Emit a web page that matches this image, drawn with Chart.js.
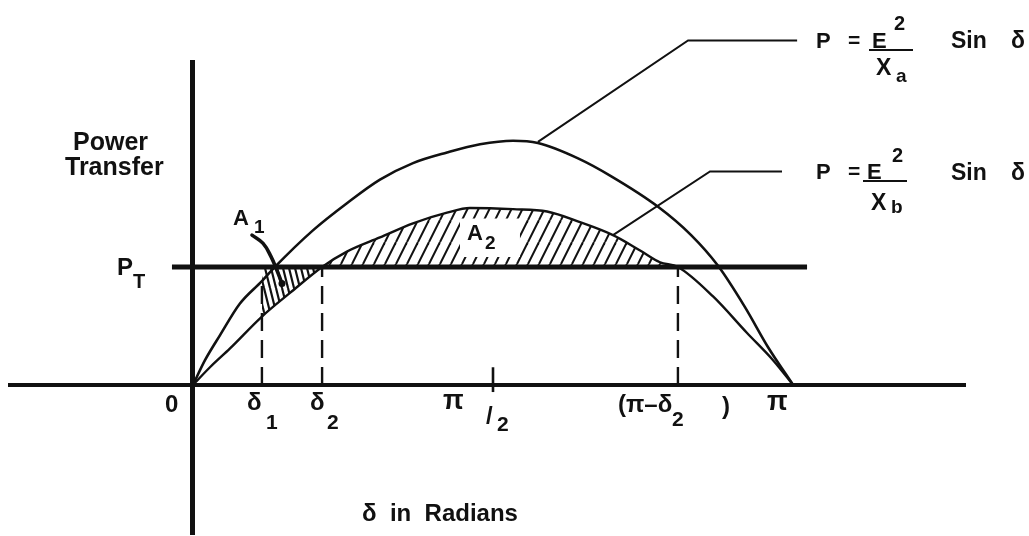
<!DOCTYPE html>
<html><head><meta charset="utf-8">
<script src="https://cdn.jsdelivr.net/npm/chart.js@4"></script>
<style>html,body{margin:0;padding:0;background:#fff;}canvas{display:block;}</style>
</head><body>
<canvas id="c" width="1029" height="536"></canvas>
<script>
// ---- data (δ in radians, power in units of P_T) ----
const upperX = [0,0.063,0.141,0.246,0.361,0.429,0.628,0.806,0.979,1.152,1.330,1.503,1.676,1.806,2.016,2.188,2.435,2.608,2.749,2.890,3.011,3.142];
const upperY = [0,0.21,0.42,0.69,0.88,1.00,1.31,1.54,1.74,1.88,1.97,2.04,2.07,2.05,1.92,1.77,1.51,1.27,1.01,0.66,0.32,0];
const lowerX = [0,0.089,0.194,0.361,0.508,0.676,0.806,0.979,1.152,1.330,1.450,1.676,1.854,2.026,2.199,2.341,2.445,2.539,2.723,2.901,3.037,3.142];
const lowerY = [0,0.15,0.31,0.58,0.78,1.00,1.13,1.25,1.37,1.46,1.50,1.49,1.47,1.38,1.27,1.14,1.04,1.00,0.75,0.44,0.21,0];
const PT = 1.0;
const ptLineX = [-0.110, 3.215];
const delta1 = 0.361, delta2 = 0.676, piMinusDelta2 = 2.539;
const delta1Top = 0.88;
const halfPiTickY = [-0.06, 0.15];
const a2PlainX = [1.398, 1.712];
const a2PlainY = [1.41, 1.085];
const leaderAX = [1.806, 2.592, 3.163], leaderAY = [2.06, 2.92, 2.92];
const leaderBX = [2.199, 2.707, 3.084], leaderBY = [1.27, 1.81, 1.81];
const pointerX = [0.309, 0.367, 0.408, 0.440, 0.466], pointerY = [1.27, 1.20, 1.09, 0.97, 0.86];
const xTickValues = [0, delta1, delta2, Math.PI/2, piMinusDelta2, Math.PI];
const xTickLabels = ['0', 'δ1', 'δ2', 'π/2', '(π–δ2 )', 'π'];

const pts = (xs, ys) => xs.map((x, i) => ({x, y: ys[i]}));
const FONT = "'Liberation Sans', Arial, sans-serif";
const INK = '#111';

function makeHatch(w, h, lines, lw) {
  const c = document.createElement('canvas'); c.width = w; c.height = h;
  const g = c.getContext('2d'); g.strokeStyle = INK; g.lineWidth = lw;
  lines.forEach(l => { g.beginPath(); g.moveTo(l[0], l[1]); g.lineTo(l[2], l[3]); g.stroke(); });
  return g.createPattern(c, 'repeat');
}
const hatchA2 = makeHatch(11, 22, [[0,22,11,0],[-11,22,0,0],[11,22,22,0]], 2);
const hatchA1 = makeHatch(6, 24, [[0,0,6,24],[-6,0,0,24],[6,0,12,24]], 2.2);

const base = {showLine: true, pointRadius: 0, borderColor: INK, fill: false, clip: false};
const datasets = [
  Object.assign({}, base, {label: 'A2', data: pts(lowerX.slice(5, 18), lowerY.slice(5, 18)), borderColor: 'rgba(0,0,0,0)', borderWidth: 0, cubicInterpolationMode: 'monotone', fill: {value: PT}, backgroundColor: hatchA2, order: 20}),
  Object.assign({}, base, {label: 'A1', data: pts(lowerX.slice(3, 6), lowerY.slice(3, 6)), borderColor: 'rgba(0,0,0,0)', borderWidth: 0, cubicInterpolationMode: 'monotone', fill: {value: PT}, backgroundColor: hatchA1, order: 20}),
  Object.assign({}, base, {label: 'A2 label area', data: pts(a2PlainX, [a2PlainY[0], a2PlainY[0]]), borderColor: 'rgba(0,0,0,0)', borderWidth: 0, fill: {value: a2PlainY[1]}, backgroundColor: '#fff', order: 19}),
  Object.assign({}, base, {label: 'P = E²/Xa sin δ', data: pts(upperX, upperY), borderWidth: 2.6, cubicInterpolationMode: 'monotone', order: 5}),
  Object.assign({}, base, {label: 'P = E²/Xb sin δ', data: pts(lowerX, lowerY), borderWidth: 2.4, cubicInterpolationMode: 'monotone', order: 5}),
  Object.assign({}, base, {label: 'PT', data: pts(ptLineX, [PT, PT]), borderWidth: 5, order: 4}),
  Object.assign({}, base, {label: 'δ1', data: pts([delta1, delta1], [0, delta1Top]), borderWidth: 2.4, borderDash: [18, 9], order: 6}),
  Object.assign({}, base, {label: 'δ2', data: pts([delta2, delta2], [0, PT]), borderWidth: 2.4, borderDash: [18, 9], order: 6}),
  Object.assign({}, base, {label: 'π-δ2', data: pts([piMinusDelta2, piMinusDelta2], [0, PT]), borderWidth: 2.4, borderDash: [18, 9], order: 6}),
  Object.assign({}, base, {label: 'π/2', data: pts([Math.PI/2, Math.PI/2], halfPiTickY), borderWidth: 2.6, order: 6}),
  Object.assign({}, base, {label: 'leader a', data: pts(leaderAX, leaderAY), borderWidth: 2, order: 6}),
  Object.assign({}, base, {label: 'leader b', data: pts(leaderBX, leaderBY), borderWidth: 2, order: 6}),
  Object.assign({}, base, {label: 'A1 pointer', data: pts(pointerX, pointerY), borderWidth: 3.6, tension: 0.4, borderCapStyle: 'round',
    pointRadius: c => c.dataIndex === pointerX.length - 1 ? 3.5 : 0, pointBackgroundColor: INK, pointBorderWidth: 0, order: 3})
];

// label layout: [text, dx from tick pixel, baseline y, size]
const xLabelParts = [
  [['0', -28, 412, 24]],
  [['δ', -15, 410, 24], ['1', 4, 429, 21]],
  [['δ', -12, 410, 24], ['2', 5, 429, 21]],
  [['π', -50, 409, 27], ['/', -7, 424, 24], ['2', 4, 431, 21]],
  [['(π–δ', -60, 412, 24], ['2', -6, 426, 21], [')', 44, 414, 24]],
  [['π', -26, 410, 27]]
];
// free texts: [text, left x, baseline y, size]
const freeTexts = [
  ['Power', 73, 150, 25], ['Transfer', 65, 175, 25],
  ['P', 117, 275, 24], ['T', 133, 288, 20],
  ['A', 233, 225, 22], ['1', 254, 233, 19],
  ['A', 467, 240, 22], ['2', 485, 249, 19],
  ['δ  in  Radians', 362, 521, 24],
  ['P', 816, 48, 22], ['=', 848, 47, 21], ['E', 872, 48, 22], ['2', 894, 30, 20], ['X', 876, 75, 23], ['a', 896, 82, 19], ['Sin', 951, 48, 23], ['δ', 1011, 48, 23],
  ['P', 816, 179, 22], ['=', 848, 178, 21], ['E', 867, 179, 22], ['2', 892, 162, 20], ['X', 871, 210, 23], ['b', 891, 213, 19], ['Sin', 951, 180, 23], ['δ', 1011, 180, 23]
];
const fractionBars = [[869, 913, 50], [863, 907, 181]];

const textPlugin = {
  id: 'texts',
  afterDraw(chart) {
    const ctx = chart.ctx, xs = chart.scales.x;
    ctx.save();
    ctx.fillStyle = INK; ctx.textBaseline = 'alphabetic'; ctx.textAlign = 'left';
    xTickValues.forEach((v, i) => {
      const px = xs.getPixelForValue(v);
      xLabelParts[i].forEach(p => { ctx.font = 'bold ' + p[3] + 'px ' + FONT; ctx.fillText(p[0], px + p[1], p[2]); });
    });
    freeTexts.forEach(t => { ctx.font = 'bold ' + t[3] + 'px ' + FONT; ctx.fillText(t[0], t[1], t[2]); });
    ctx.strokeStyle = INK; ctx.lineWidth = 2;
    fractionBars.forEach(b => { ctx.beginPath(); ctx.moveTo(b[0], b[2]); ctx.lineTo(b[1], b[2]); ctx.stroke(); });
    ctx.restore();
  }
};

new Chart(document.getElementById('c'), {
  type: 'scatter',
  data: {datasets},
  options: {
    responsive: false, animation: false, events: [],
    layout: {padding: {left: 10, right: 64, top: 62, bottom: 2}, autoPadding: false},
    plugins: {legend: {display: false}, tooltip: {enabled: false}},
    scales: {
      x: {type: 'linear', min: -0.958, max: 4.042, position: {y: 0},
          grid: {display: false}, ticks: {display: false},
          border: {display: true, width: 4, color: INK},
          afterFit: s => { s.height = 0; }},
      y: {type: 'linear', min: -1.263, max: 2.737, position: {x: 0},
          grid: {display: false}, ticks: {display: false},
          border: {display: true, width: 5, color: INK},
          afterFit: s => { s.width = 0; }}
    }
  },
  plugins: [textPlugin]
});
</script>
</body></html>
